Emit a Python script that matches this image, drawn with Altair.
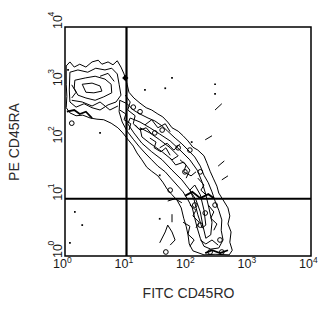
import altair as alt
import pandas as pd

# ---- axis values -------------------------------------------------------
TICK_VALUES = [1, 10, 100, 1000, 10000]
TICK_EXPONENTS = ["0", "1", "2", "3", "4"]
X_TITLE = "FITC CD45RO"
Y_TITLE = "PE CD45RA"
GATE_X = [10]
GATE_Y = [10]

# ---- contour lines, in decades (log10 of fluorescence) -----------------
OUTER_X = [0.02, 0.08, 0.15, 0.24, 0.34, 0.44, 0.54, 0.60, 0.70, 0.78, 0.85, 0.91, 0.96, 1.01, 1.04, 1.12,
           1.22, 1.32, 1.41, 1.51, 1.59, 1.67, 1.74, 1.84, 1.92, 2.00, 2.08, 2.16, 2.26, 2.31, 2.36, 2.41,
           2.47, 2.50, 2.57, 2.65, 2.68, 2.65, 2.70, 2.68, 2.72, 2.67, 2.44, 2.26, 2.08, 2.02, 2.00, 1.97,
           1.93, 1.89, 1.82, 1.74, 1.66, 1.59, 1.51, 1.41, 1.33, 1.25, 1.17, 1.11, 1.02, 0.94, 0.86, 0.75,
           0.63, 0.52, 0.41, 0.29, 0.18, 0.08, 0.02, 0.03, 0.02, 0.02]
OUTER_Y = [3.32, 3.39, 3.30, 3.35, 3.30, 3.39, 3.42, 3.35, 3.39, 3.34, 3.41, 3.30, 3.18, 3.00, 2.86, 2.76,
           2.67, 2.59, 2.55, 2.48, 2.43, 2.34, 2.24, 2.18, 2.10, 2.01, 1.90, 1.85, 1.75, 1.62, 1.48, 1.36,
           1.22, 1.10, 0.98, 0.84, 0.70, 0.56, 0.42, 0.24, 0.10, 0.02, 0.03, 0.02, 0.09, 0.21, 0.37, 0.52,
           0.66, 0.84, 0.98, 1.07, 1.17, 1.29, 1.40, 1.48, 1.55, 1.68, 1.80, 1.92, 2.04, 2.15, 2.24, 2.32,
           2.38, 2.39, 2.41, 2.46, 2.45, 2.50, 2.59, 2.79, 3.00, 3.32]

BLOB1_X = [0.08, 0.21, 0.37, 0.50, 0.65, 0.76, 0.85, 0.88, 0.91, 0.83, 0.70, 0.57, 0.44, 0.31, 0.18, 0.08, 0.07, 0.08]
BLOB1_Y = [3.21, 3.25, 3.21, 3.28, 3.25, 3.28, 3.18, 3.00, 2.81, 2.69, 2.64, 2.55, 2.59, 2.66, 2.60, 2.69, 2.90, 3.21]

BLOB2_X = [0.16, 0.33, 0.49, 0.65, 0.75, 0.76, 0.63, 0.49, 0.34, 0.21, 0.15, 0.16]
BLOB2_Y = [3.07, 3.11, 3.14, 3.09, 3.00, 2.85, 2.78, 2.72, 2.76, 2.81, 2.93, 3.07]

BLOB3_X = [0.28, 0.44, 0.57, 0.60, 0.47, 0.34, 0.28]
BLOB3_Y = [3.00, 3.02, 2.97, 2.88, 2.85, 2.86, 3.00]

BAND1_X = [0.89, 1.01, 1.11, 1.22, 1.35, 1.46, 1.58, 1.67, 1.79, 1.90, 2.02, 2.11, 2.20, 2.26, 2.33, 2.39,
           2.44, 2.50, 2.55, 2.54, 2.57, 2.50, 2.37, 2.26, 2.20, 2.15, 2.11, 2.07, 2.00, 1.92, 1.82, 1.72,
           1.63, 1.51, 1.40, 1.30, 1.20, 1.11, 1.01, 0.93, 0.88, 0.89]
BAND1_Y = [2.72, 2.66, 2.55, 2.48, 2.41, 2.36, 2.27, 2.18, 2.06, 1.96, 1.83, 1.73, 1.57, 1.41, 1.28, 1.12,
           0.96, 0.80, 0.63, 0.45, 0.28, 0.14, 0.12, 0.17, 0.31, 0.49, 0.66, 0.84, 0.98, 1.12, 1.24, 1.36,
           1.47, 1.57, 1.69, 1.80, 1.92, 2.04, 2.18, 2.34, 2.52, 2.72]

BAND2_X = [1.06, 1.22, 1.38, 1.54, 1.71, 1.87, 2.03, 2.15, 2.23, 2.29, 2.34, 2.39, 2.37, 2.29, 2.24, 2.20,
           2.13, 2.03, 1.90, 1.74, 1.58, 1.41, 1.25, 1.12, 1.02, 1.06]
BAND2_Y = [2.41, 2.34, 2.24, 2.13, 2.01, 1.85, 1.68, 1.50, 1.29, 1.07, 0.84, 0.59, 0.37, 0.31, 0.54, 0.77,
           0.98, 1.15, 1.33, 1.50, 1.68, 1.82, 1.97, 2.15, 2.31, 2.41]

BAND3_X = [1.22, 1.38, 1.54, 1.71, 1.84, 1.74, 1.58, 1.38, 1.25, 1.22]
BAND3_Y = [2.24, 2.15, 2.03, 1.89, 1.75, 1.68, 1.82, 1.97, 2.08, 2.24]

BAND4_X = [2.11, 2.20, 2.26, 2.29, 2.23, 2.16, 2.10, 2.03, 2.11]
BAND4_Y = [1.24, 1.07, 0.80, 0.54, 0.49, 0.72, 0.98, 1.15, 1.24]

# open contour fragments
FRAG_X = [
    [0.11, 0.28, 0.44, 0.57, 0.73, 0.86],
    [0.57, 0.70, 0.80],
    [0.98, 1.06, 1.02, 1.14, 1.11, 1.22],
    [1.30, 1.41, 1.51, 1.63, 1.71],
    [1.71, 1.80, 1.93, 2.03, 1.97],
    [1.92, 2.03, 2.00, 2.10, 2.03],
    [1.54, 1.63, 1.67, 1.74, 1.79, 1.71],
    [1.74, 1.74],
    [1.67, 1.79, 1.90],
    [2.44, 2.55],
    [2.28, 2.39],
    [0.89, 0.99, 0.96, 1.07, 1.04],
    [1.38, 1.48, 1.45, 1.56, 1.64, 1.71],
    [1.87, 1.97, 1.93, 2.05, 2.13],
    [2.16, 2.26, 2.21, 2.31],
    [2.03, 2.13, 2.08, 2.18, 2.13],
    [2.33, 2.42, 2.37, 2.47, 2.42],
    [2.20, 2.29, 2.39, 2.49],
    [1.54, 1.66, 1.77, 1.87],
    [1.14, 1.22, 1.32, 1.41],
    [0.11, 0.18, 0.11],
    [2.49, 2.59],
    [2.55, 2.65],
]
FRAG_Y = [
    [2.72, 2.69, 2.62, 2.69, 2.55, 2.62],
    [3.14, 3.19, 3.05],
    [2.81, 2.69, 2.55, 2.45, 2.31, 2.20],
    [2.29, 2.38, 2.24, 2.31, 2.17],
    [1.71, 1.59, 1.64, 1.50, 1.36],
    [0.59, 0.52, 0.38, 0.28, 0.17],
    [0.23, 0.42, 0.54, 0.42, 0.28, 0.19],
    [0.73, 0.59],
    [0.96, 1.00, 0.93],
    [2.55, 2.66],
    [2.03, 2.10],
    [2.55, 2.48, 2.38, 2.31, 2.20],
    [2.06, 1.99, 1.89, 1.82, 1.89, 1.76],
    [1.68, 1.59, 1.47, 1.40, 1.47],
    [1.36, 1.24, 1.15, 1.05],
    [0.89, 0.80, 0.70, 0.59, 0.49],
    [0.89, 0.77, 0.66, 0.56, 0.45],
    [0.28, 0.21, 0.28, 0.19],
    [1.89, 1.97, 1.85, 1.96],
    [2.29, 2.20, 2.24, 2.13],
    [2.99, 2.86, 2.76],
    [1.57, 1.66],
    [1.33, 1.40],
]
HEAVY_X = [
    [0.03, 0.15, 0.24, 0.34, 0.44],
    [1.95, 2.07, 2.20, 2.33, 2.42],
    [2.28, 2.39, 2.52, 2.65],
]
HEAVY_Y = [
    [2.52, 2.55, 2.48, 2.52, 2.41],
    [1.05, 1.12, 1.01, 1.08, 1.01],
    [0.05, 0.10, 0.05, 0.10],
]

# small closed loops
LOOP_X = [0.11, 1.11, 1.22, 1.46, 1.58, 1.84, 2.03, 1.95, 2.20, 1.71, 2.28, 2.11, 2.44, 2.20, 2.52, 1.64, 2.36, 2.55]
LOOP_Y = [2.32, 2.60, 2.52, 2.15, 2.20, 1.89, 1.85, 1.47, 1.47, 1.15, 0.75, 0.89, 0.89, 0.54, 0.28, 0.07, 0.07, 0.07]

# isolated events
DOT_X = [0.16, 0.28, 0.08, 0.57, 1.54, 1.74, 1.63, 2.44, 2.44, 1.30, 2.06, 1.54, 0.05]
DOT_Y = [0.77, 0.54, 0.23, 2.15, 1.41, 3.11, 2.93, 3.00, 2.83, 2.90, 1.99, 0.65, 3.25]

PEAK_X = [0.98]
PEAK_Y = [3.11]

# ---- tables -------------------------------------------------------------
rows = []
closed = [(OUTER_X, OUTER_Y), (BLOB1_X, BLOB1_Y), (BLOB2_X, BLOB2_Y), (BLOB3_X, BLOB3_Y),
          (BAND1_X, BAND1_Y), (BAND2_X, BAND2_Y), (BAND3_X, BAND3_Y), (BAND4_X, BAND4_Y)]
cid = 0
for xs_, ys_ in closed + list(zip(FRAG_X, FRAG_Y)):
    for i, (a, b) in enumerate(zip(xs_, ys_)):
        rows.append({"cid": cid, "idx": i, "x": 10 ** a, "y": 10 ** b})
    cid += 1
lines_df = pd.DataFrame(rows)

heavy_rows = []
for k, (xs_, ys_) in enumerate(zip(HEAVY_X, HEAVY_Y)):
    for i, (a, b) in enumerate(zip(xs_, ys_)):
        heavy_rows.append({"cid": k, "idx": i, "x": 10 ** a, "y": 10 ** b})
heavy_df = pd.DataFrame(heavy_rows)

loops_df = pd.DataFrame({"x": [10 ** v for v in LOOP_X], "y": [10 ** v for v in LOOP_Y]})
dots_df = pd.DataFrame({"x": [10 ** v for v in DOT_X], "y": [10 ** v for v in DOT_Y]})
peak_df = pd.DataFrame({"x": [10 ** v for v in PEAK_X], "y": [10 ** v for v in PEAK_Y]})
ticks_df = pd.DataFrame({"v": TICK_VALUES, "e": TICK_EXPONENTS})

FONT = "Liberation Sans"
LABEL_COLOR = "#1a1a1a"

xs = alt.Scale(type="log", domain=[1, 10000])
ys = alt.Scale(type="log", domain=[1, 10000])
x_axis = alt.Axis(labels=False, ticks=False, domain=False, grid=False, title=X_TITLE,
                  titleFont=FONT, titleFontSize=14, titleFontWeight="normal",
                  titleColor="#2a2a2a", titlePadding=30)
y_axis = alt.Axis(labels=False, ticks=False, domain=False, grid=False, title=Y_TITLE,
                  titleFont=FONT, titleFontSize=14, titleFontWeight="normal",
                  titleColor="#2a2a2a", titlePadding=44)

X = lambda f="x": alt.X(f"{f}:Q", scale=xs, axis=x_axis)
Y = lambda f="y": alt.Y(f"{f}:Q", scale=ys, axis=y_axis)

contours = alt.Chart(lines_df).mark_line(color="black", strokeWidth=1.0, interpolate="linear").encode(
    x=X(), y=Y(), detail="cid:N", order="idx:Q")
heavy = alt.Chart(heavy_df).mark_line(color="black", strokeWidth=1.8).encode(
    x=X(), y=Y(), detail="cid:N", order="idx:Q")
loops = alt.Chart(loops_df).mark_point(shape="circle", filled=False, color="black",
                                       size=22, strokeWidth=1, opacity=1).encode(x=X(), y=Y())
dots = alt.Chart(dots_df).mark_square(color="black", size=3, opacity=1).encode(x=X(), y=Y())
peak = alt.Chart(peak_df).mark_point(shape="diamond", filled=True, color="black",
                                     size=40, opacity=1).encode(x=X(), y=Y())

gate_v = alt.Chart(pd.DataFrame({"g": GATE_X})).mark_rule(color="black", strokeWidth=2.2).encode(
    x=alt.X("g:Q", scale=xs, axis=x_axis))
gate_h = alt.Chart(pd.DataFrame({"g": GATE_Y})).mark_rule(color="black", strokeWidth=2.2).encode(
    y=alt.Y("g:Q", scale=ys, axis=y_axis))

# tick labels: "10" with superscript exponent
xl_base = alt.Chart(ticks_df).mark_text(text="10", font=FONT, fontSize=12.5, align="right",
                                        baseline="alphabetic", dx=2, color=LABEL_COLOR).encode(
    x=alt.X("v:Q", scale=xs, axis=x_axis), y=alt.value(267.5 - 27))
xl_sup = alt.Chart(ticks_df).mark_text(font=FONT, fontSize=8.5, align="left",
                                       baseline="alphabetic", dx=2, color=LABEL_COLOR).encode(
    x=alt.X("v:Q", scale=xs, axis=x_axis), y=alt.value(262.5 - 27), text="e:N")
yl_base = alt.Chart(ticks_df).mark_text(text="10", font=FONT, fontSize=12.5, align="left",
                                        baseline="alphabetic", angle=270, dx=-2,
                                        color=LABEL_COLOR).encode(
    y=alt.Y("v:Q", scale=ys, axis=y_axis), x=alt.value(62 - 65))
yl_sup = alt.Chart(ticks_df).mark_text(font=FONT, fontSize=8.5, align="left",
                                       baseline="alphabetic", angle=270, dx=10.5,
                                       color=LABEL_COLOR).encode(
    y=alt.Y("v:Q", scale=ys, axis=y_axis), x=alt.value(53.5 - 65), text="e:N")

chart = alt.layer(
    contours, heavy, loops, dots, peak, gate_v, gate_h, xl_base, xl_sup, yl_base, yl_sup
).properties(
    width=246, height=229,
    autosize=alt.AutoSizeParams(type="none"),
    padding={"left": 65, "top": 27, "right": 9, "bottom": 64},
    background="white",
).configure_view(stroke="black", strokeWidth=1.5)

chart.save("out.html", embed_options={"renderer": "svg", "actions": False})
